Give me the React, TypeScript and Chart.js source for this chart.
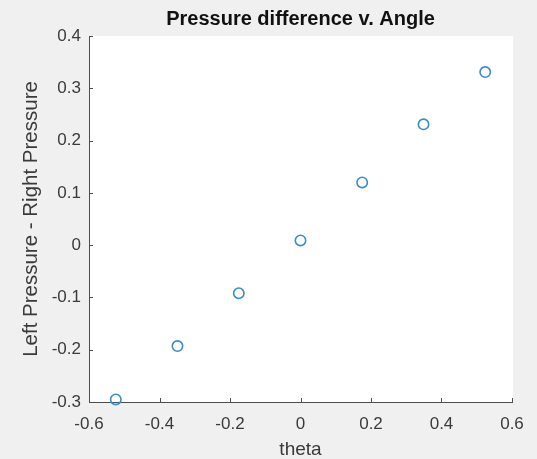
import React, { useEffect, useRef } from "react";
import { Chart, registerables } from "chart.js";

Chart.register(...registerables);

const thetaValues = [-0.524, -0.349, -0.175, 0, 0.175, 0.349, 0.524];
const pressureDiff = [-0.295, -0.193, -0.092, 0.009, 0.12, 0.231, 0.331];

const titleText = "Pressure difference v. Angle";
const xTitle = "theta";
const yTitle = "Left Pressure - Right Pressure";

const FONT = "Arial, 'Liberation Sans', Helvetica, sans-serif";
const AXIS_COLOR = "#4d4d4d";
const TEXT_COLOR = "#3a3a3a";

const fmt = (v: number) => (Math.abs(v) < 1e-9 ? "0" : Number(v).toFixed(1));

const backgroundPlugin = {
  id: "bgPlugin",
  beforeDraw(chart: any) {
    const { ctx, chartArea } = chart;
    ctx.save();
    ctx.fillStyle = "#f0f0f0";
    ctx.fillRect(0, 0, chart.width, chart.height);
    ctx.fillStyle = "#ffffff";
    ctx.fillRect(
      chartArea.left,
      chartArea.top,
      chartArea.right - chartArea.left + 1,
      chartArea.bottom - chartArea.top
    );
    ctx.restore();
  },
};

const innerTicksPlugin = {
  id: "innerTicks",
  afterDraw(chart: any) {
    const { ctx, chartArea } = chart;
    const xs = chart.scales.x;
    const ys = chart.scales.y;
    const len = 4;
    ctx.save();
    ctx.strokeStyle = AXIS_COLOR;
    ctx.lineWidth = 1;
    ctx.beginPath();
    xs.ticks.forEach((t: any) => {
      const px = Math.round(xs.getPixelForValue(t.value)) + 0.5;
      ctx.moveTo(px, chartArea.bottom);
      ctx.lineTo(px, chartArea.bottom - len);
    });
    ys.ticks.forEach((t: any) => {
      const py = Math.round(ys.getPixelForValue(t.value)) + 0.5;
      ctx.moveTo(chartArea.left, py);
      ctx.lineTo(chartArea.left + len, py);
    });
    ctx.stroke();
    ctx.restore();
  },
};

export default function App() {
  const canvasRef = useRef<HTMLCanvasElement | null>(null);

  useEffect(() => {
    if (!canvasRef.current) return;
    const chart = new Chart(canvasRef.current, {
      type: "scatter",
      data: {
        datasets: [
          {
            data: thetaValues.map((x, i) => ({ x, y: pressureDiff[i] })),
            pointStyle: "circle",
            pointRadius: 5.2,
            pointHoverRadius: 5.2,
            borderWidth: 1.6,
            borderColor: "#3a8cc7",
            backgroundColor: "rgba(0,0,0,0)",
            showLine: false,
            clip: false,
          } as any,
        ],
      },
      options: {
        animation: false,
        responsive: false,
        maintainAspectRatio: false,
        layout: { padding: { top: 0, right: 25, left: 0, bottom: 0 } },
        plugins: {
          legend: { display: false },
          tooltip: { enabled: false },
          title: {
            display: true,
            text: titleText,
            fullSize: false,
            color: "#111111",
            font: { family: FONT, size: 20, weight: "bold", lineHeight: 1 },
            padding: { top: 9, bottom: 7 },
          },
        },
        scales: {
          x: {
            type: "linear",
            min: -0.6,
            max: 0.6,
            grid: { display: false, drawTicks: false },
            border: { display: true, color: AXIS_COLOR, width: 1 },
            ticks: {
              stepSize: 0.2,
              color: TEXT_COLOR,
              padding: 12,
              maxRotation: 0,
              autoSkip: false,
              font: { family: FONT, size: 17 },
              callback: (v: any) => fmt(v),
            },
            title: {
              display: true,
              text: xTitle,
              color: TEXT_COLOR,
              font: { family: FONT, size: 19, lineHeight: 1 },
              padding: { top: 0, bottom: 0 },
            },
            afterFit: (scale: any) => {
              scale.height = 57;
            },
          },
          y: {
            type: "linear",
            min: -0.3,
            max: 0.4,
            grid: { display: false, drawTicks: false },
            border: { display: true, color: AXIS_COLOR, width: 1 },
            ticks: {
              stepSize: 0.1,
              color: TEXT_COLOR,
              padding: 8,
              autoSkip: false,
              font: { family: FONT, size: 17 },
              callback: (v: any) => fmt(v),
            },
            title: {
              display: true,
              text: yTitle,
              color: TEXT_COLOR,
              font: { family: FONT, size: 20.5, lineHeight: 1 },
              padding: { top: 21, bottom: 0 },
            },
            afterFit: (scale: any) => {
              scale.width = 89;
            },
          },
        },
      },
      plugins: [backgroundPlugin, innerTicksPlugin],
    });
    return () => chart.destroy();
  }, []);

  return (
    <div style={{ position: "fixed", left: 0, top: 0, width: 537, height: 459, background: "#f0f0f0" }}>
      <canvas ref={canvasRef} width={537} height={459} style={{ display: "block" }} />
    </div>
  );
}
